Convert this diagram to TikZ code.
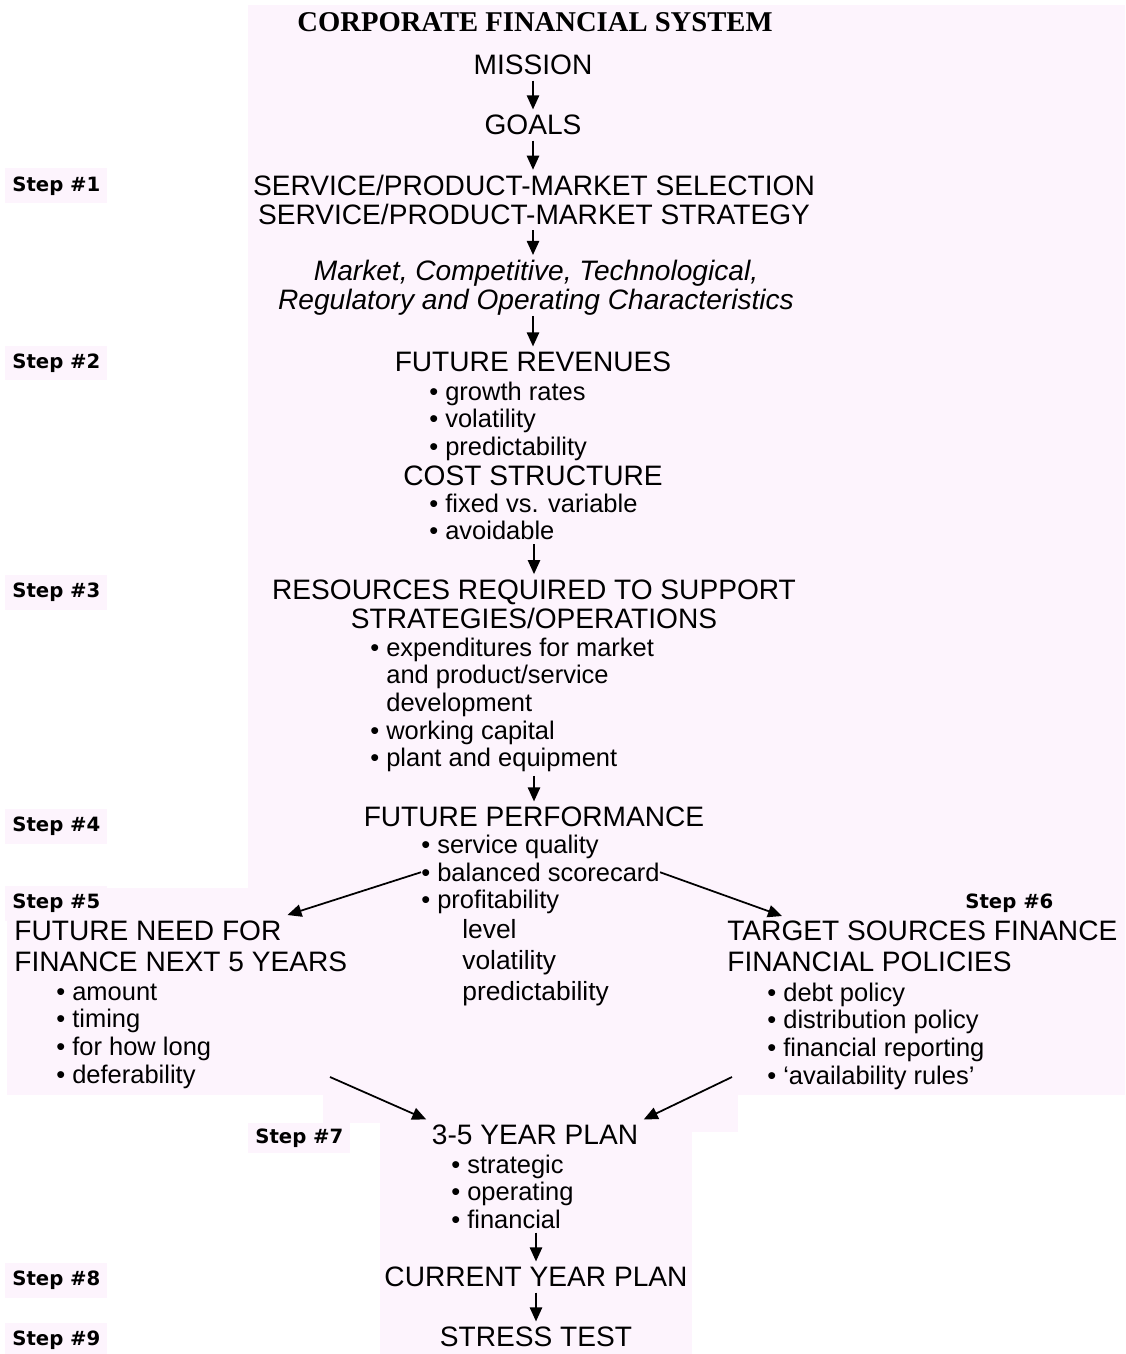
\documentclass[tikz,border=0pt]{standalone}
\usepackage{fontspec}
\setmainfont{Liberation Sans}
\newfontfamily\titlefamily{Liberation Serif}
\newfontfamily\stepfamily{DejaVu Sans}
\usetikzlibrary{positioning, calc, arrows.meta}

\definecolor{pinkbg}{RGB}{253,244,253}
\newcommand{\headsize}{\fontsize{16}{16.3}\selectfont}
\newcommand{\itemsize}{\fontsize{14.5}{15.7}\selectfont}
\newcommand{\bul}{\textbullet\ }
\newcommand{\bulsp}{\hphantom{\textbullet\ }}

\begin{document}
\begin{tikzpicture}[
  x=0.02cm, y=-0.02cm,
  %% title line
  titl/.style={font=\titlefamily\bfseries\fontsize{16.3}{18}\selectfont, inner sep=2pt},
  %% headings of the central column
  head/.style={font=\headsize, align=center, inner sep=3pt},
  %% bullet lists
  blist/.style={font=\itemsize, align=left, anchor=north west,
    inner xsep=0pt, inner ysep=2pt},
  %% step labels (left margin)
  stepbox/.style={font=\stepfamily\bfseries\fontsize{11.2}{13}\selectfont,
    fill=pinkbg, anchor=west, inner xsep=4pt, minimum height=0.7cm},
  %% arrows
  arr/.style={-{Triangle[length=8pt,width=7pt]}, line width=1pt}
]
\useasboundingbox (0,0) rectangle (1125,1354);

%% ================================================================
%% BACKGROUND
%% ================================================================
\fill[pinkbg] (248,5) rectangle (1125,888);
\fill[pinkbg] (7,888) rectangle (1125,1095);
\fill[pinkbg] (323,1095) rectangle (437,1123);
\fill[pinkbg] (437,1095) rectangle (738,1132);
\fill[pinkbg] (380,1123) rectangle (692,1354);

%% ================================================================
%% STEPS 1-4
%% ================================================================
\node[titl] (title) at (535,22) {CORPORATE FINANCIAL SYSTEM};

\node[head] (mission) at (533,65) {MISSION};
\node[head] (goals) at (533,125) {GOALS};
\draw[arr] (mission.south) -- (mission.south |- goals.north);

\node[head] (select) at (534,200) {SERVICE/PRODUCT-MARKET SELECTION\\
  SERVICE/PRODUCT-MARKET STRATEGY};
\draw[arr] (goals.south) -- (goals.south |- select.north);

\node[head, font=\headsize\itshape] (charac) at (536,288) {Market, Competitive, Technological,\\
  Regulatory and Operating Characteristics};
\draw[arr] (select.south -| goals.south) -- (goals.south |- charac.north);

\node[head] (frev) at (533,362) {FUTURE REVENUES};
\draw[arr] ([yshift=3pt]charac.south -| frev.north) -- (frev.north);

\node[blist] (frevlist) at (429,378) {\bul growth rates\\\bul volatility\\\bul predictability};

\node[head] (cost) at (533,476) {COST STRUCTURE};
\node[blist] (costlist) at (429,490) {\bul fixed vs. variable\\\bul avoidable};

\node[head] (resrc) at (534,604) {RESOURCES REQUIRED TO SUPPORT\\
  STRATEGIES/OPERATIONS};
\draw[arr] (costlist.south -| resrc.north) -- (resrc.north);

\node[blist] (resrclist) at (370,634) {\bul expenditures for market\\
  \bulsp and product/service\\
  \bulsp development\\
  \bul working capital\\
  \bul plant and equipment};

\node[head] (perf) at (534,817) {FUTURE PERFORMANCE};
\draw[arr] (resrclist.south -| perf.north) -- (perf.north);

\node[blist] (perfq) at (421,831) {\bul service quality};
\node[blist] (bsc) at (421,859) {\bul balanced scorecard};
\node[blist] (profit) at (421,886) {\bul profitability};
\node[blist, font=\fontsize{15}{17.6}\selectfont] (profsub) at (462,916) {level\\volatility\\predictability};

%% ================================================================
%% STEPS 5 AND 6
%% ================================================================
\node[stepbox] (s5) at (5,903) {Step \#5};
\node[head, align=left, anchor=north west, inner sep=0pt,
      font=\fontsize{16}{17.6}\selectfont] (need) at (14,921) {FUTURE NEED FOR\\
  FINANCE NEXT 5 YEARS};
\node[blist] (needlist) at (56,980) {\bul amount\\\bul timing\\\bul for how long\\\bul deferability};

\node[stepbox] (s6) at (958,903) {Step \#6};
\node[head, align=left, anchor=north west, inner sep=0pt,
      font=\fontsize{16}{17.6}\selectfont] (target) at (727,921) {TARGET SOURCES FINANCE\\
  FINANCIAL POLICIES};
\node[blist] (targetlist) at (767,979) {\bul debt policy\\\bul distribution policy\\
  \bul financial reporting\\\bul `availability rules'};

\draw[arr] (bsc.west) -- ($(need.north east)+(-60,-6)$);
\draw[arr] (bsc.east) -- ($(target.north west)+(55,-5)$);

%% ================================================================
%% STEPS 7-9
%% ================================================================
\node[head] (plan) at (535,1135) {3-5 YEAR PLAN};
\coordinate (needout) at (330,1077);
\coordinate (tgtout) at (732,1077);
\draw[arr] (needout) -- (plan.north west);
\draw[arr] (tgtout) -- (plan.north east);

\node[blist] (planlist) at (451,1151) {\bul strategic\\\bul operating\\\bul financial};

\node[head] (cur) at (536,1277) {CURRENT YEAR PLAN};
\draw[arr] (planlist.south -| cur.north) -- (cur.north);

\node[head] (stress) at (536,1337) {STRESS TEST};
\draw[arr] (cur.south) -- (stress.north);

%% ================================================================
%% STEP LABELS (left margin)
%% ================================================================
\node[stepbox] (s1) at (5,186) {Step \#1};
\node[stepbox] (s2) at (5,363) {Step \#2};
\node[stepbox] (s3) at (5,592) {Step \#3};
\node[stepbox] (s4) at (5,826) {Step \#4};
\node[stepbox, minimum height=0.46cm] (s7) at (248,1138) {Step \#7};
\node[stepbox] (s8) at (5,1280) {Step \#8};
\node[stepbox] (s9) at (5,1340) {Step \#9};

\end{tikzpicture}
\end{document}
